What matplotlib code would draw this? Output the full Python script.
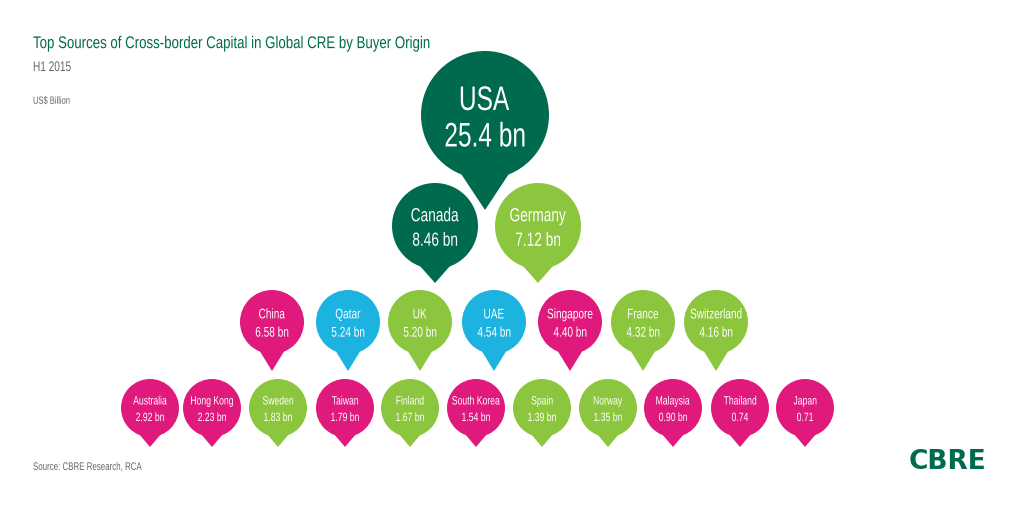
import matplotlib
matplotlib.use("Agg")
import matplotlib.pyplot as plt
from matplotlib.patches import Circle, Polygon, PathPatch
from matplotlib.textpath import TextPath
from matplotlib.font_manager import FontProperties
from matplotlib.transforms import Affine2D

DG, LG, MG, CY = "#006a4e", "#8cc63e", "#e0197d", "#1db3e0"

countries = ["USA", "Canada", "Germany",
             "China", "Qatar", "UK", "UAE", "Singapore", "France", "Switzerland",
             "Australia", "Hong Kong", "Sweden", "Taiwan", "Finland", "South Korea",
             "Spain", "Norway", "Malaysia", "Thailand", "Japan"]
values = [25.4, 8.46, 7.12, 6.58, 5.24, 5.20, 4.54, 4.40, 4.32, 4.16,
          2.92, 2.23, 1.83, 1.79, 1.67, 1.54, 1.39, 1.35, 0.90, 0.74, 0.71]
labels = ["25.4 bn", "8.46 bn", "7.12 bn", "6.58 bn", "5.24 bn", "5.20 bn", "4.54 bn",
          "4.40 bn", "4.32 bn", "4.16 bn", "2.92 bn", "2.23 bn", "1.83 bn", "1.79 bn",
          "1.67 bn", "1.54 bn", "1.39 bn", "1.35 bn", "0.90 bn", "0.74", "0.71"]
colors = [DG, DG, LG, MG, CY, LG, CY, MG, LG, LG,
          MG, MG, LG, MG, LG, MG, LG, LG, MG, MG, MG]

xs = [485, 435, 538, 272, 348, 420, 494, 570, 643, 716,
      150, 212, 278, 345, 410, 476, 542, 608, 673, 740, 805]
ys = [115, 226, 226] + [322] * 7 + [408] * 11
rs = [64, 43, 43] + [32] * 7 + [29] * 11
tips = [210, 283, 283] + [371] * 7 + [447] * 11
fs = [(34, 34), (19, 19), (19, 19)] + [(14, 14)] * 7 + [(12, 12)] * 11

fig = plt.figure(figsize=(10.24, 5.05), dpi=100)
ax = fig.add_axes([0, 0, 1, 1])
ax.set_xlim(0, 1024); ax.set_ylim(505, 0); ax.axis("off")
ax.set_aspect("equal")
fp = FontProperties(family="Liberation Sans")

def ctext(x, y, s, size, color, sx=0.72, ha="center", weight="normal"):
    p = TextPath((0, 0), s, size=size, prop=FontProperties(family="Liberation Sans", weight=weight))
    ext = p.get_extents()
    capy = size * 0.36
    if ha == "center":
        x0 = (ext.x0 + ext.x1) / 2
    else:
        x0 = 0
    tr = Affine2D().translate(-x0, -capy).scale(sx, -1).translate(x, y)
    ax.add_patch(PathPatch(tr.transform_path(p), color=color, lw=0))

for c, v, l, col, x, y, r, t, f in zip(countries, values, labels, colors, xs, ys, rs, tips, fs):
    ax.add_patch(Circle((x, y), r, color=col, lw=0))
    ax.add_patch(Polygon([(x - r * 0.42, y + r * 0.85), (x + r * 0.42, y + r * 0.85), (x, t)],
                         closed=True, color=col, lw=0))
    ctext(x, y - r * 0.27, c, f[0], "white")
    ctext(x, y + r * 0.30, l, f[1], "white")

ctext(33, 42, "Top Sources of Cross-border Capital in Global CRE by Buyer Origin", 17, DG, ha="left", sx=0.78)
ctext(33, 66, "H1 2015", 14, "#666666", ha="left")
ctext(33, 100, "US$ Billion", 10.5, "#666666", ha="left")
ctext(33, 466, "Source: CBRE Research, RCA", 11, "#666666", ha="left")
ax.text(948, 462, "CBRE", color=DG, fontsize=19, fontweight="bold", ha="center", va="center")

fig.savefig("out.png", dpi=100)
